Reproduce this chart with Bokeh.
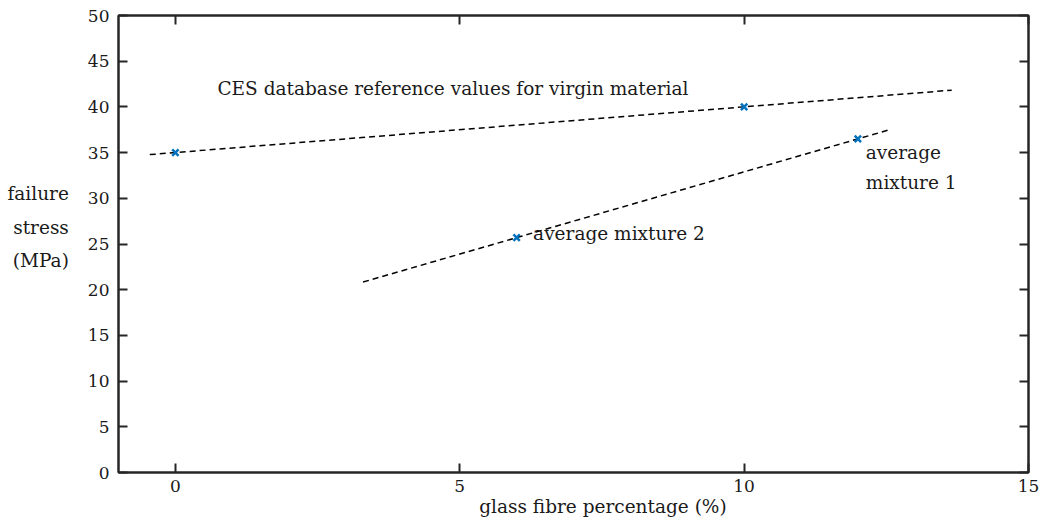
from bokeh.plotting import figure
from bokeh.models import Range1d, LinearAxis, Label, FixedTicker
from bokeh.embed import file_html
from bokeh.resources import INLINE

# data
ces_x = [0, 10]
ces_y = [35, 40]
mix_x = [6, 12]
mix_y = [25.7, 36.5]
ces_fit_x = [-0.45, 13.65]
ces_fit_y = [34.78, 41.83]
mix_fit_x = [3.3, 12.53]
mix_fit_y = [20.84, 37.45]
x_ticks = [0, 5, 10, 15]
y_ticks = [0, 5, 10, 15, 20, 25, 30, 35, 40, 45, 50]
x_title = "glass fibre percentage (%)"
y_title = "failure\nstress\n(MPa)\n"

FONT = "DejaVu Serif"
AX = "#262626"
TXT = "#1a1a1a"

p = figure(width=1044, height=519, output_backend="svg", toolbar_location=None,
           x_range=Range1d(-1, 15), y_range=Range1d(0, 50),
           x_axis_location=None, y_axis_location=None,
           min_border_left=118, min_border_right=16, min_border_top=15, min_border_bottom=46)
p.grid.visible = False
p.outline_line_color = AX
p.outline_line_width = 2
p.background_fill_color = "white"
p.border_fill_color = "white"


def style_axis(ax, ticks, show_labels):
    ax.axis_line_color = AX
    ax.axis_line_width = 2
    ax.major_tick_line_color = AX
    ax.major_tick_line_width = 2
    ax.major_tick_in = 9
    ax.major_tick_out = 0
    ax.minor_tick_line_color = None
    ax.major_label_text_font = FONT
    ax.major_label_text_color = TXT
    ax.major_label_text_font_size = "17px"
    if not show_labels:
        ax.major_label_overrides = {t: "" for t in ticks}


bottom = LinearAxis(ticker=FixedTicker(ticks=x_ticks))
style_axis(bottom, x_ticks, True)
bottom.major_label_standoff = 7
bottom.axis_label = "\u00a0" * 10 + x_title
bottom.axis_label_text_font = FONT
bottom.axis_label_text_font_style = "normal"
bottom.axis_label_text_font_size = "18.5px"
bottom.axis_label_text_color = TXT
bottom.axis_label_standoff = 1
p.add_layout(bottom, "below")

top = LinearAxis(ticker=FixedTicker(ticks=x_ticks))
style_axis(top, x_ticks, False)
p.add_layout(top, "above")

left = LinearAxis(ticker=FixedTicker(ticks=y_ticks))
style_axis(left, y_ticks, True)
left.major_label_standoff = 9
left.axis_label = y_title
left.axis_label_orientation = "horizontal"
left.axis_label_text_font = FONT
left.axis_label_text_font_style = "normal"
left.axis_label_text_font_size = "18.5px"
left.axis_label_text_line_height = 1.6
left.axis_label_text_align = "left"
left.axis_label_text_color = TXT
left.axis_label_standoff = 16
p.add_layout(left, "left")

right = LinearAxis(ticker=FixedTicker(ticks=y_ticks))
style_axis(right, y_ticks, False)
p.add_layout(right, "right")

# dashed fit lines
p.line(ces_fit_x, ces_fit_y, line_color="black", line_width=1.5, line_dash="6 4")
p.line(mix_fit_x, mix_fit_y, line_color="black", line_width=1.5, line_dash="6 4")

# markers
p.scatter(ces_x, ces_y, marker="x", size=9, line_color="#0072BD", line_width=2.5)
p.scatter(mix_x, mix_y, marker="x", size=9, line_color="#0072BD", line_width=2.5)


def add_text(x, y, t, size="18.5px"):
    p.add_layout(Label(x=x, y=y, text=t, text_font=FONT, text_font_size=size,
                       text_color=TXT, text_align="left", text_baseline="middle"))


add_text(0.74, 42.0, "CES database reference values for virgin material")
add_text(6.29, 26.2, "average mixture 2")
add_text(12.14, 35.0, "average")
add_text(12.14, 31.7, "mixture 1")

open("out.html", "w").write(file_html(p, INLINE))
